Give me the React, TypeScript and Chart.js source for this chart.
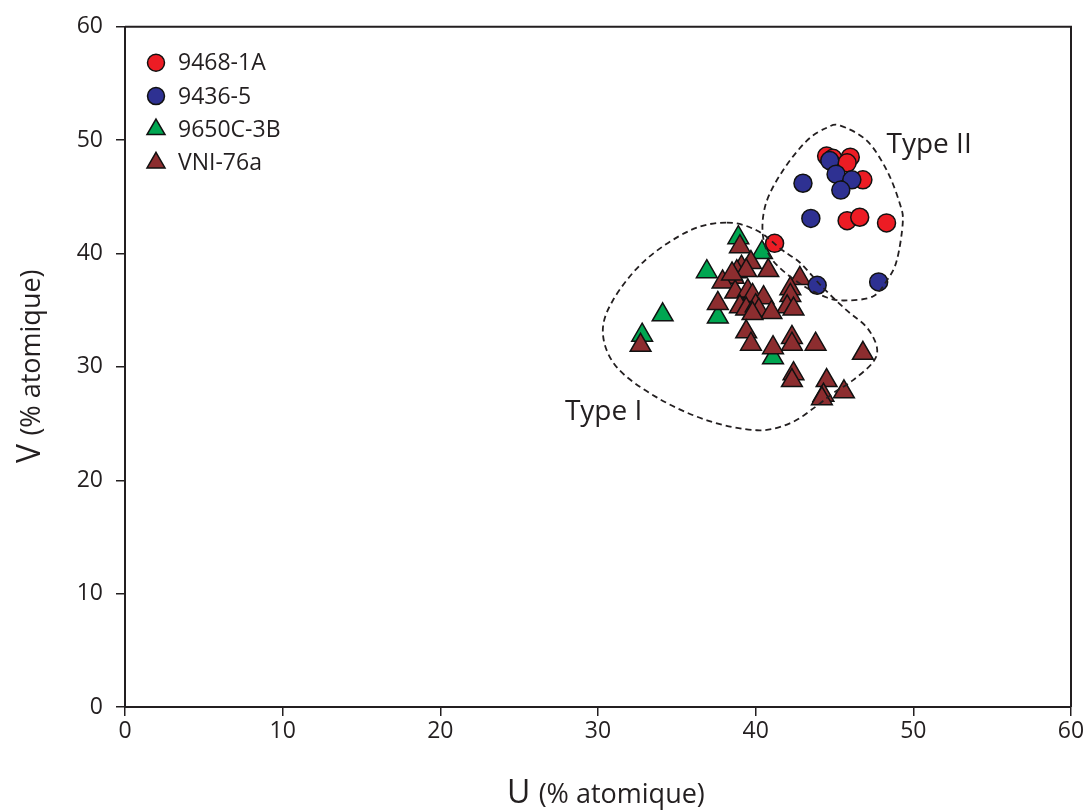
import { useEffect, useRef } from 'react';
import { Chart, registerables } from 'chart.js';

Chart.register(...registerables);

// ---- Data (U, V in % atomique) ----
const redU = [44.5, 44.9, 46.0, 45.8, 46.8, 45.8, 46.6, 48.3, 41.2];
const redV = [48.6, 48.4, 48.5, 48.0, 46.5, 42.9, 43.2, 42.7, 40.9];

const blueU = [44.7, 45.1, 46.1, 45.4, 43.0, 43.5, 43.9, 47.8];
const blueV = [48.2, 47.0, 46.5, 45.6, 46.2, 43.1, 37.2, 37.5];

const greenU = [38.9, 40.4, 36.9, 34.1, 37.6, 32.8, 41.1];
const greenV = [41.4, 40.1, 38.4, 34.6, 34.4, 32.8, 30.8];

const brownU = [39.0, 39.7, 39.1, 38.8, 39.4, 38.6, 40.8, 37.9, 42.8, 42.2, 42.2, 38.7, 39.5, 39.8, 40.5, 37.6, 42.0, 42.4, 39.0, 39.4, 40.0, 40.2, 41.0, 39.8, 39.4, 39.7, 42.3, 42.3, 41.1, 43.8, 46.8, 42.4, 42.3, 44.5, 44.3, 44.2, 45.6, 32.7, 38.5];
const brownV = [40.6, 39.2, 38.8, 38.4, 38.5, 37.9, 38.5, 37.5, 37.8, 36.9, 36.3, 36.6, 36.7, 36.3, 36.1, 35.6, 35.3, 35.1, 35.3, 35.1, 35.4, 35.0, 34.8, 34.7, 33.1, 32.0, 32.6, 32.0, 31.7, 32.0, 31.2, 29.4, 28.8, 28.8, 27.5, 27.2, 27.8, 31.9, 38.2];

const seriesNames = ['9468-1A', '9436-5', '9650C-3B', 'VNI-76a'];
const axisTicks = [0, 10, 20, 30, 40, 50, 60];

// Group outlines (data space)
const typeIU = [38.17, 40.08, 41.72, 42.80, 44.26, 45.78, 47.05, 47.69, 47.43, 46.16, 44.90, 43.75, 42.17, 40.08, 36.91, 33.73, 31.20, 30.31, 30.94, 32.97, 35.83];
const typeIV = [42.73, 42.03, 40.26, 39.21, 37.00, 34.98, 33.48, 31.72, 30.40, 28.81, 27.67, 26.43, 25.02, 24.41, 25.29, 27.31, 29.96, 32.95, 35.86, 39.38, 42.03];
const typeIIU = [45.37, 47.05, 48.32, 49.14, 49.33, 48.95, 48.32, 47.43, 45.78, 44.52, 42.80, 41.09, 40.46, 40.65, 41.72, 43.25, 44.52];
const typeIIV = [51.28, 49.96, 47.33, 44.41, 42.73, 39.38, 37.62, 36.21, 35.86, 36.12, 37.36, 39.38, 41.59, 44.41, 47.31, 49.96, 51.10];

const INK = '#231f20';
const RED = '#ed1c24';
const BLUE = '#2e3192';
const GREEN = '#00a651';
const BROWN = '#8c2d2f';
const FONT = '"Open Sans", "Noto Sans", sans-serif';

const pts = (u: number[], v: number[]) => u.map((x, i) => ({ x, y: v[i] }));

const overlayPlugin = {
  id: 'overlay',
  afterDatasetsDraw(chart: any) {
    const { ctx, scales } = chart;
    const xs = scales.x;
    const ys = scales.y;
    const drawLoop = (u: number[], v: number[]) => {
      const p = u.map((x, i) => [xs.getPixelForValue(x), ys.getPixelForValue(v[i])]);
      const n = p.length;
      ctx.beginPath();
      ctx.moveTo(p[0][0], p[0][1]);
      for (let i = 0; i < n; i++) {
        const p0 = p[(i - 1 + n) % n];
        const p1 = p[i];
        const p2 = p[(i + 1) % n];
        const p3 = p[(i + 2) % n];
        const c1x = p1[0] + (p2[0] - p0[0]) / 6;
        const c1y = p1[1] + (p2[1] - p0[1]) / 6;
        const c2x = p2[0] - (p3[0] - p1[0]) / 6;
        const c2y = p2[1] - (p3[1] - p1[1]) / 6;
        ctx.bezierCurveTo(c1x, c1y, c2x, c2y, p2[0], p2[1]);
      }
      ctx.closePath();
      ctx.stroke();
    };
    ctx.save();
    ctx.strokeStyle = INK;
    ctx.lineWidth = 1.8;
    ctx.setLineDash([6, 4]);
    drawLoop(typeIU, typeIV);
    drawLoop(typeIIU, typeIIV);
    ctx.restore();

    ctx.save();
    ctx.fillStyle = INK;
    ctx.font = `28px ${FONT}`;
    ctx.textBaseline = 'alphabetic';
    ctx.textAlign = 'left';
    ctx.fillText('Type II', xs.getPixelForValue(48.3), ys.getPixelForValue(48.9));
    ctx.fillText('Type I', xs.getPixelForValue(27.9), ys.getPixelForValue(25.3));
    ctx.restore();
  },
  afterDraw(chart: any) {
    const { ctx, chartArea } = chart;
    ctx.save();
    ctx.strokeStyle = INK;
    ctx.lineWidth = 2;
    ctx.beginPath();
    ctx.moveTo(chartArea.left, chartArea.top);
    ctx.lineTo(chartArea.right, chartArea.top);
    ctx.lineTo(chartArea.right, chartArea.bottom);
    ctx.stroke();

    // legend
    const colors = [RED, BLUE, GREEN, BROWN];
    const shapes = ['circle', 'circle', 'triangle', 'triangle'];
    const lx = chartArea.left + 31;
    const tx = chartArea.left + 53;
    const y0 = chartArea.top + 36;
    const dy = 33.3;
    ctx.textBaseline = 'middle';
    ctx.textAlign = 'left';
    ctx.font = `23px ${FONT}`;
    seriesNames.forEach((name, i) => {
      const cy = y0 + i * dy;
      ctx.fillStyle = colors[i];
      ctx.strokeStyle = '#111';
      ctx.lineWidth = 1.5;
      ctx.beginPath();
      if (shapes[i] === 'circle') {
        ctx.arc(lx, cy, 8.5, 0, Math.PI * 2);
      } else {
        const r = 10.4;
        ctx.moveTo(lx, cy - r);
        ctx.lineTo(lx + r * Math.sin((2 * Math.PI) / 3), cy - r * Math.cos((2 * Math.PI) / 3));
        ctx.lineTo(lx - r * Math.sin((2 * Math.PI) / 3), cy - r * Math.cos((2 * Math.PI) / 3));
        ctx.closePath();
      }
      ctx.fill();
      ctx.stroke();
      ctx.fillStyle = INK;
      ctx.fillText(name, tx, cy + 1);
    });

    // axis titles
    ctx.fillStyle = INK;
    ctx.textBaseline = 'alphabetic';
    ctx.textAlign = 'left';
    ctx.font = `32px ${FONT}`;
    const ux = 507;
    const uy = 803;
    ctx.fillText('U', ux, uy);
    const wU = ctx.measureText('U ').width;
    ctx.font = `27px ${FONT}`;
    ctx.fillText('(% atomique)', ux + wU, uy);

    ctx.translate(40, 463);
    ctx.rotate(-Math.PI / 2);
    ctx.font = `32px ${FONT}`;
    ctx.fillText('V', 0, 0);
    const wV = ctx.measureText('V ').width;
    ctx.font = `27px ${FONT}`;
    ctx.fillText('(% atomique)', wV, 0);
    ctx.restore();
  },
};

export default function App() {
  const ref = useRef<HTMLCanvasElement | null>(null);

  useEffect(() => {
    if (!ref.current) return;
    const pointBase = { borderColor: '#111', borderWidth: 1.5, showLine: false };
    const chart = new Chart(ref.current, {
      type: 'scatter',
      data: {
        datasets: [
          { ...pointBase, label: seriesNames[0], data: pts(redU, redV), backgroundColor: RED, pointStyle: 'circle', pointRadius: 9, order: 1 },
          { ...pointBase, label: seriesNames[1], data: pts(blueU, blueV), backgroundColor: BLUE, pointStyle: 'circle', pointRadius: 9, order: 0 },
          { ...pointBase, label: seriesNames[2], data: pts(greenU, greenV), backgroundColor: GREEN, pointStyle: 'triangle', pointRadius: 12, order: 3 },
          { ...pointBase, label: seriesNames[3], data: pts(brownU, brownV), backgroundColor: BROWN, pointStyle: 'triangle', pointRadius: 12, order: 2 },
        ],
      },
      options: {
        animation: false,
        responsive: false,
        devicePixelRatio: 1,
        layout: { padding: { left: 0, top: 26, right: 16, bottom: 0 } },
        plugins: {
          legend: { display: false },
          tooltip: { enabled: false },
          title: { display: false },
        },
        scales: {
          x: {
            type: 'linear',
            min: 0,
            max: 60,
            afterBuildTicks: (s: any) => { s.ticks = axisTicks.map((v) => ({ value: v })); },
            afterFit: (s: any) => { s.height = 103; },
            grid: { drawOnChartArea: false, drawTicks: true, tickLength: 9, color: INK, lineWidth: 1.5 },
            border: { display: true, color: INK, width: 2 },
            ticks: { color: INK, font: { family: FONT, size: 23 }, padding: 2, maxRotation: 0 },
            title: { display: false },
          },
          y: {
            type: 'linear',
            min: 0,
            max: 60,
            afterBuildTicks: (s: any) => { s.ticks = axisTicks.map((v) => ({ value: v })); },
            afterFit: (s: any) => { s.width = 125; },
            grid: { drawOnChartArea: false, drawTicks: true, tickLength: 9, color: INK, lineWidth: 1.5 },
            border: { display: true, color: INK, width: 2 },
            ticks: { color: INK, font: { family: FONT, size: 23 }, padding: 13 },
            title: { display: false },
          },
        },
      },
      plugins: [overlayPlugin],
    });
    return () => chart.destroy();
  }, []);

  return (
    <div style={{ position: 'fixed', left: 0, top: 0, width: 1087, height: 810, background: '#fff' }}>
      <canvas ref={ref} width={1087} height={810} style={{ display: 'block', width: 1087, height: 810 }} />
    </div>
  );
}
